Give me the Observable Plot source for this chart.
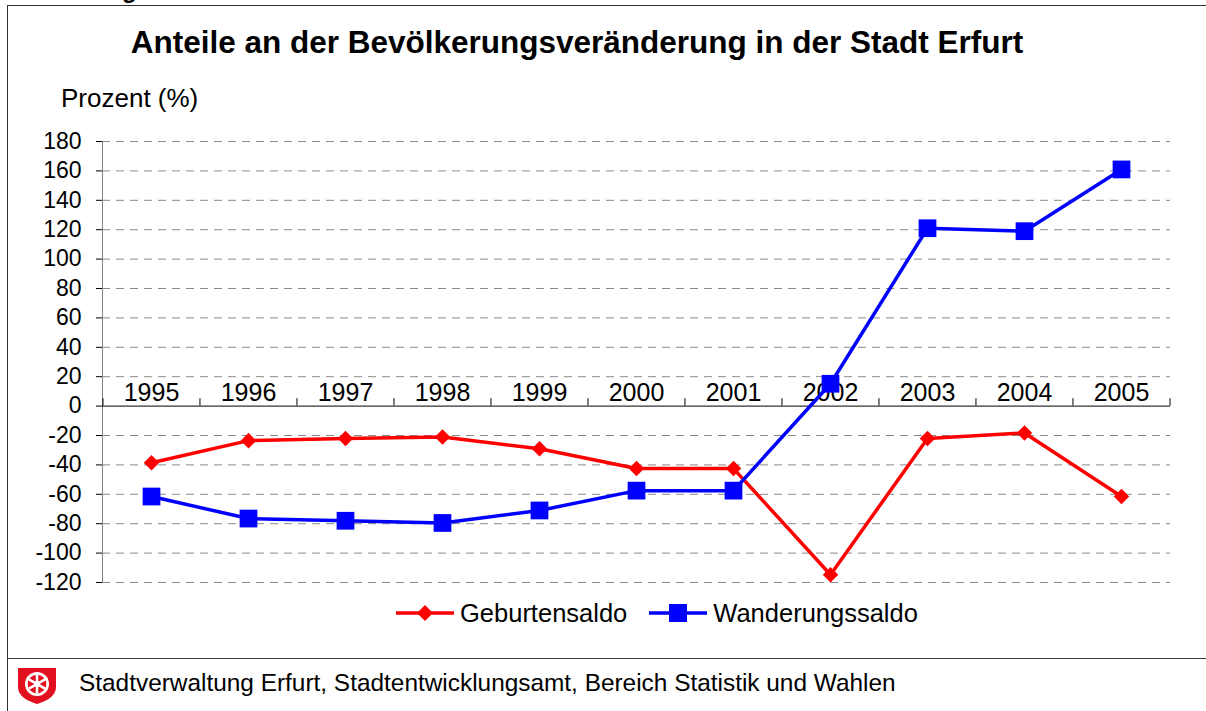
<!DOCTYPE html>
<html>
<head>
<meta charset="utf-8">
<script src="https://cdn.jsdelivr.net/npm/d3@7"></script>
<script src="https://cdn.jsdelivr.net/npm/@observablehq/plot@0.6"></script>
<style>
  html, body { margin: 0; padding: 0; background: #fff; }
  body { font-family: "Liberation Sans", Arial, sans-serif; color: #000; }
  #page { position: relative; width: 1206px; height: 711px; overflow: hidden; }
  .abs { position: absolute; white-space: nowrap; }
  #frameL { left: 7px; top: 5px; width: 1px; height: 706px; background: #303030; }
  #frameT { left: 7px; top: 5px; width: 1199px; height: 1px; background: #303030; }
  #divider { left: 7px; top: 658px; width: 1199px; height: 1px; background: #404040; }
  #title { left: 577px; top: 27px; transform: translateX(-50%); font-size: 31.5px; font-weight: bold; line-height: 31.5px; }
  #ylabel { left: 61px; top: 85px; font-size: 26px; line-height: 26px; }
  #chart { left: 0; top: 120px; }
  #legend { left: 396px; top: 599px; height: 28px; display: flex; align-items: center; font-size: 25.5px; line-height: 26px; }
  #legend .item { display: flex; align-items: center; }
  #legend svg { display: block; }
  #footer { left: 79px; top: 671px; font-size: 24.4px; line-height: 24.4px; }
  #logo { left: 18px; top: 668px; }
  #abb { left: 18px; top: -22px; font-size: 24px; font-weight: bold; line-height: 24px; }
</style>
</head>
<body>
<div id="page">
  <div class="abs" id="abb">Abbildung</div>
  <div class="abs" id="frameL"></div>
  <div class="abs" id="frameT"></div>
  <div class="abs" id="title"></div>
  <div class="abs" id="ylabel"></div>
  <div class="abs" id="chart"></div>
  <div class="abs" id="legend"></div>
  <div class="abs" id="divider"></div>
  <div class="abs" id="logo">
    <svg width="38" height="36" viewBox="0 0 38 36">
      <path d="M0,0 H38 V19 C38,28 29,33 19,36 C9,33 0,28 0,19 Z" fill="#e2101e"/>
      <circle cx="19" cy="16" r="12" fill="#fff"/>
      <circle cx="19" cy="16" r="9.3" fill="#e2101e"/>
      <g stroke="#fff" stroke-width="2.6">
        <line x1="19" y1="6.7" x2="19" y2="25.3"/>
        <line x1="10.9" y1="11.35" x2="27.1" y2="20.65"/>
        <line x1="10.9" y1="20.65" x2="27.1" y2="11.35"/>
      </g>
      <circle cx="19" cy="16" r="3" fill="#fff"/>
    </svg>
  </div>
  <div class="abs" id="footer"></div>
</div>
<script>
// ---- Data ----
const titleText = "Anteile an der Bevölkerungsveränderung in der Stadt Erfurt";
const yLabelText = "Prozent (%)";
const footerText = "Stadtverwaltung Erfurt, Stadtentwicklungsamt, Bereich Statistik und Wahlen";
const years = ["1995","1996","1997","1998","1999","2000","2001","2002","2003","2004","2005"];
const seriesNames = ["Geburtensaldo", "Wanderungssaldo"];
const geburtensaldo = [-38.5, -23.5, -22, -21, -29, -42.5, -42.5, -114.7, -22, -18.3, -61.5];
const wanderungssaldo = [-61.5, -76.5, -78, -79.5, -71, -57.5, -57.5, 15.2, 121, 119, 161];
const yTicks = [-120, -100, -80, -60, -40, -20, 0, 20, 40, 60, 80, 100, 120, 140, 160, 180];

const red = "#ff0000";
const blue = "#0000ff";

document.getElementById("title").textContent = titleText;
document.getElementById("ylabel").textContent = yLabelText;
document.getElementById("footer").textContent = footerText;

const geb = years.map((year, i) => ({year, value: geburtensaldo[i]}));
const wan = years.map((year, i) => ({year, value: wanderungssaldo[i]}));
const gridVals = yTicks.filter(v => v !== 0);

const W = 1206, ML = 102, MR = 36;
const step = (W - ML - MR) / years.length;

const chart = Plot.plot({
  width: W,
  height: 480,
  marginLeft: ML,
  marginRight: MR,
  marginTop: 21,
  marginBottom: 18,
  style: {fontFamily: "'Liberation Sans', Arial, sans-serif", fontSize: "23px", background: "transparent", overflow: "visible", color: "#000"},
  x: {type: "point", domain: years, padding: 0.5, axis: null},
  y: {domain: [-120, 180]},
  marks: [
    Plot.ruleY(gridVals, {stroke: "#8a8a8a", strokeWidth: 1, strokeDasharray: "8,6"}),
    Plot.frame({anchor: "left", stroke: "#808080"}),
    Plot.axisY({ticks: yTicks, tickSize: 6, tickPadding: 15, tickFormat: d => String(d), fontSize: 23, label: null, stroke: "#000", strokeOpacity: 1}),
    Plot.ruleY([0], {stroke: "#000", strokeWidth: 1}),
    Plot.ruleX(years, {x: d => d, y1: () => 0, y2: () => 5, dx: -step / 2, stroke: "#000"}),
    Plot.ruleX(years.slice(-1), {x: d => d, y1: () => 0, y2: () => 5, dx: step / 2, stroke: "#000"}),
    Plot.text(years, {x: d => d, y: () => 0, dy: -13.6, text: d => d, fontSize: 25, fill: "#000"}),
    Plot.line(geb, {x: "year", y: "value", stroke: red, strokeWidth: 3.5}),
    Plot.dot(geb, {x: "year", y: "value", symbol: "diamond2", r: 7, fill: red, stroke: "none"}),
    Plot.line(wan, {x: "year", y: "value", stroke: blue, strokeWidth: 3.5}),
    Plot.dot(wan, {x: "year", y: "value", symbol: "square", r: 10, fill: blue, stroke: "none"})
  ]
});
document.getElementById("chart").appendChild(chart);

// ---- Legend ----
const legend = document.getElementById("legend");
const swatches = [
  {name: seriesNames[0], color: red, shape: "diamond"},
  {name: seriesNames[1], color: blue, shape: "square"}
];
swatches.forEach((s, i) => {
  const item = document.createElement("div");
  item.className = "item";
  item.style.marginRight = i === 0 ? "22px" : "0";
  const marker = s.shape === "diamond"
    ? `<path d="M29,-8 L37,0 L29,8 L21,0 Z" fill="${s.color}"/>`
    : `<rect x="20" y="-9" width="18" height="18" fill="${s.color}"/>`;
  item.innerHTML = `<svg width="58" height="28" viewBox="0 -14 58 28"><line x1="0" y1="0" x2="58" y2="0" stroke="${s.color}" stroke-width="3.5"/>${marker}</svg><span style="margin-left:6px">${s.name}</span>`;
  legend.appendChild(item);
});
</script>
</body>
</html>
